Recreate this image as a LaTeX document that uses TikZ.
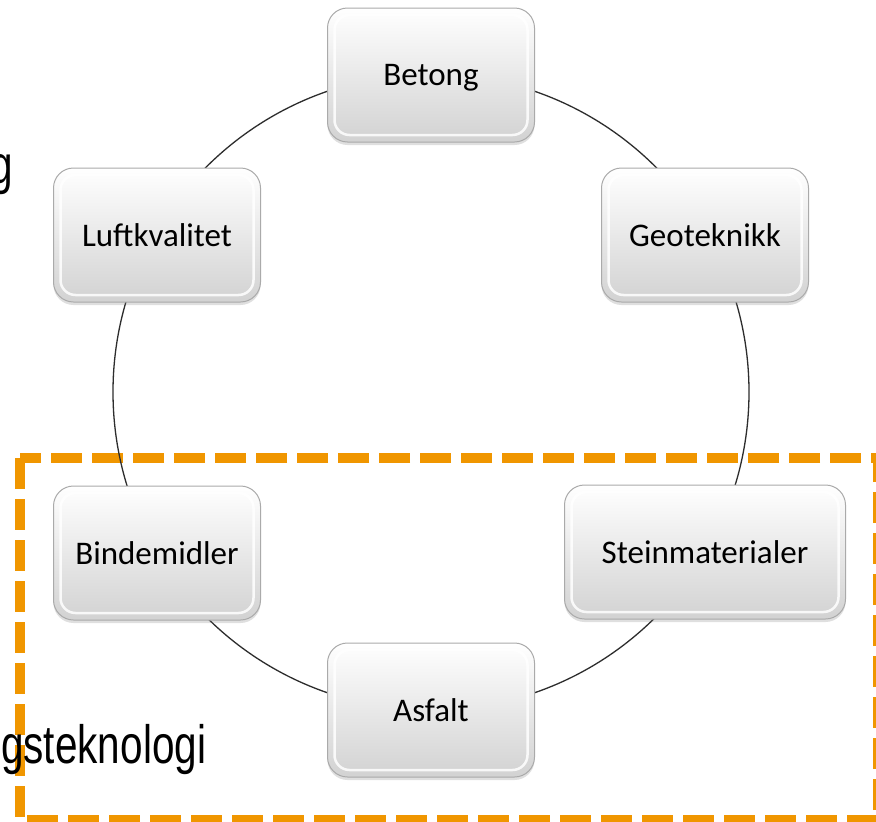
\documentclass[tikz,border=0pt]{standalone}
\usepackage{fontspec}
\usetikzlibrary{shadows}
\newfontfamily\boxfont{Carlito}
\newfontfamily\labfont{Liberation Sans}
\definecolor{dashorange}{RGB}{240,150,0}
\definecolor{boxedge}{RGB}{170,170,170}
\definecolor{boxbottom}{RGB}{210,210,210}
\definecolor{ringline}{RGB}{45,45,45}
\tikzset{
  bevbox/.style={
    rounded corners=20pt, minimum width=207pt, minimum height=134pt,
    top color=white, bottom color=boxbottom, draw=boxedge, line width=1pt,
    inner sep=0pt, text depth=0pt,
    font=\boxfont\fontsize{33}{40}\selectfont,
    drop shadow={shadow xshift=0pt, shadow yshift=-3pt, opacity=0.25, fill=gray},
    path picture={
      \draw[white, line width=2.5pt, rounded corners=15pt, opacity=0.85]
        ([shift={(7pt,-7pt)}]path picture bounding box.north west)
        rectangle ([shift={(-7pt,7pt)}]path picture bounding box.south east);
    }
  },
  ring/.style={draw=ringline, line width=1.3pt},
  zone/.style={draw=dashorange, line width=10pt, dash pattern=on 31pt off 10pt},
  biglabel/.style={font=\labfont\fontsize{54}{60}\selectfont, inner sep=0pt, text=black}
}
\begin{document}
\begin{tikzpicture}[x=1pt,y=-1pt]
\useasboundingbox (0,0) rectangle (876,822);
\clip (0,0) rectangle (876,822);
\fill[white] (0,0) rectangle (876,822);
% dashed zone
\draw[zone] (20,458) rectangle (878,820);
% ring
\coordinate (ctr) at (431,392);
\draw[ring] (ctr) circle[radius=318pt];
% boxes
\node[bevbox] (betong) at (431,75) {Betong};
\node[bevbox] (geo) at (705,235) {Geoteknikk};
\node[bevbox, minimum width=281pt] (stein) at (705,552) {Steinmaterialer};
\node[bevbox] (asfalt) at (431,710) {Asfalt};
\node[bevbox] (binde) at (157,553) {Bindemidler};
\node[bevbox] (luft) at (157,235) {Luftkvalitet};
% cut-off labels
\node[biglabel, anchor=base east] (lab1) at (13,183) {\scalebox{0.75}[1]{g}};
\node[biglabel, anchor=base west] (lab2) at (1,763) {\scalebox{0.75}[1]{gsteknologi}};
\end{tikzpicture}
\end{document}
